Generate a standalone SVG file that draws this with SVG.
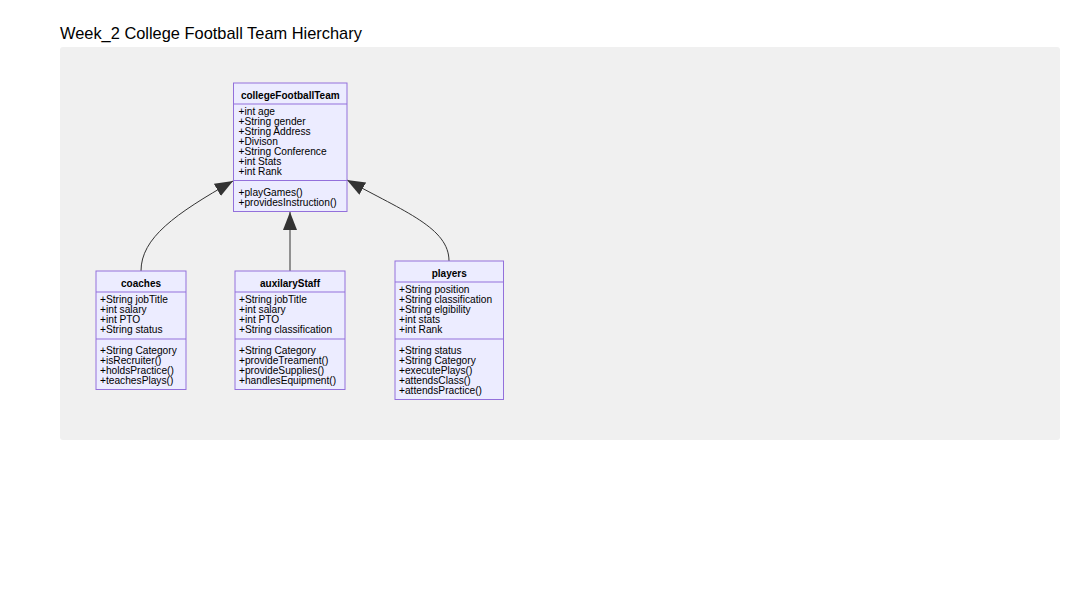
<svg xmlns="http://www.w3.org/2000/svg" width="1086" height="600" viewBox="0 0 1086 600">
<defs>
<style>
.bg{fill:#f0f0f0}
.box{fill:#ececff;stroke:#9370db;stroke-width:1}
.div{stroke:#9370db;stroke-width:1}
.t{font-family:"Liberation Sans",Arial,sans-serif;font-size:10.2px;fill:#000}
.h{font-family:"Liberation Sans",Arial,sans-serif;font-size:10px;font-weight:bold;fill:#000;text-anchor:middle}
.title{font-family:"Liberation Sans",Arial,sans-serif;font-size:16.4px;fill:#000}
.edge{fill:none;stroke:#333;stroke-width:1}
</style>
<marker id="ext" markerUnits="userSpaceOnUse" markerWidth="20" markerHeight="16" refX="18" refY="7" orient="auto">
<path d="M0,0 L18,7 L0,14 Z" fill="#333"/>
</marker>
</defs>
<rect width="1086" height="600" fill="#fff"/>
<text class="title" x="60" y="39">Week_2 College Football Team Hierchary</text>
<rect class="bg" x="60" y="47" width="1000" height="393" rx="3"/>

<g id="connectors">
<path class="edge" d="M141,271 C141,238 175,214 233,181" marker-end="url(#ext)"/>
<path class="edge" d="M290,271 L290,212" marker-end="url(#ext)"/>
<path class="edge" d="M449,261 C449,228 405,212 347,180" marker-end="url(#ext)"/>
</g>

<g id="collegeFootballTeam">
<rect class="box" x="233.5" y="83" width="113.5" height="128.5"/>
<text class="h" x="290.25" y="98.5">collegeFootballTeam</text>
<line class="div" x1="233.5" y1="104" x2="347" y2="104"/>
<text class="t" x="238.5" y="114.5">+int age</text>
<text class="t" x="238.5" y="124.5">+String gender</text>
<text class="t" x="238.5" y="134.5">+String Address</text>
<text class="t" x="238.5" y="144.5">+Divison</text>
<text class="t" x="238.5" y="154.5">+String Conference</text>
<text class="t" x="238.5" y="164.5">+int Stats</text>
<text class="t" x="238.5" y="174.5">+int Rank</text>
<line class="div" x1="233.5" y1="180.5" x2="347" y2="180.5"/>
<text class="t" x="238.5" y="195.5">+playGames()</text>
<text class="t" x="238.5" y="205.5">+providesInstruction()</text>
</g>

<g id="coaches">
<rect class="box" x="96" y="271" width="90" height="118.5"/>
<text class="h" x="141" y="287">coaches</text>
<line class="div" x1="96" y1="292" x2="186" y2="292"/>
<text class="t" x="100" y="302.5">+String jobTitle</text>
<text class="t" x="100" y="312.5">+int salary</text>
<text class="t" x="100" y="322.5">+int PTO</text>
<text class="t" x="100" y="332.5">+String status</text>
<line class="div" x1="96" y1="339" x2="186" y2="339"/>
<text class="t" x="100" y="354">+String Category</text>
<text class="t" x="100" y="364">+isRecruiter()</text>
<text class="t" x="100" y="374">+holdsPractice()</text>
<text class="t" x="100" y="384">+teachesPlays()</text>
</g>

<g id="auxilaryStaff">
<rect class="box" x="235" y="271" width="110" height="118.5"/>
<text class="h" x="290" y="287">auxilaryStaff</text>
<line class="div" x1="235" y1="292" x2="345" y2="292"/>
<text class="t" x="239" y="302.5">+String jobTitle</text>
<text class="t" x="239" y="312.5">+int salary</text>
<text class="t" x="239" y="322.5">+int PTO</text>
<text class="t" x="239" y="332.5">+String classification</text>
<line class="div" x1="235" y1="339" x2="345" y2="339"/>
<text class="t" x="239" y="354">+String Category</text>
<text class="t" x="239" y="364">+provideTreament()</text>
<text class="t" x="239" y="374">+provideSupplies()</text>
<text class="t" x="239" y="384">+handlesEquipment()</text>
</g>

<g id="players">
<rect class="box" x="395" y="261" width="108.5" height="138.5"/>
<text class="h" x="449.25" y="277">players</text>
<line class="div" x1="395" y1="282" x2="503.5" y2="282"/>
<text class="t" x="399" y="292.5">+String position</text>
<text class="t" x="399" y="302.5">+String classification</text>
<text class="t" x="399" y="312.5">+String elgibility</text>
<text class="t" x="399" y="322.5">+int stats</text>
<text class="t" x="399" y="332.5">+int Rank</text>
<line class="div" x1="395" y1="339" x2="503.5" y2="339"/>
<text class="t" x="399" y="354">+String status</text>
<text class="t" x="399" y="364">+String Category</text>
<text class="t" x="399" y="374">+executePlays()</text>
<text class="t" x="399" y="384">+attendsClass()</text>
<text class="t" x="399" y="394">+attendsPractice()</text>
</g>
</svg>
